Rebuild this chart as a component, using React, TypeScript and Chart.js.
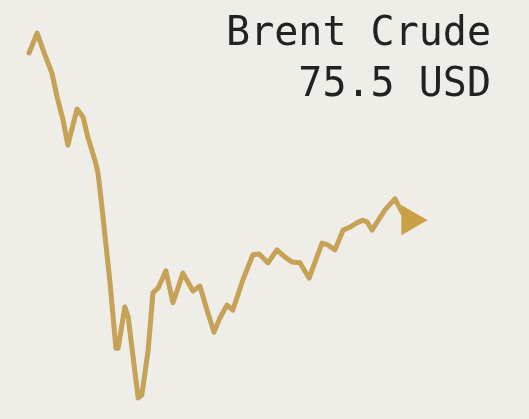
import React, { useEffect, useRef } from "react";
import { Chart, registerables } from "chart.js";

Chart.register(...registerables);

const weeks = [0, 2.2, 4.3, 6.2, 7.6, 9.2, 10.5, 13.0, 14.6, 15.9, 17.8, 18.6, 19.2, 20.0, 21.9, 23.5, 24.1, 25.9, 26.8, 29.5, 30.5, 32.2, 33.5, 34.9, 37.0, 38.9, 41.6, 44.3, 46.2, 48.1, 50.0, 51.6, 53.5, 55.1, 57.8, 60.5, 62.2, 64.6, 67.0, 69.2, 71.1, 73.2, 75.7, 79.2, 80.8, 82.7, 84.9, 86.8, 88.6, 90.3, 91.4, 92.7, 96.2, 98.9, 100.8, 103.0];
const prices = [119.4, 124.6, 118.9, 114.1, 107.8, 101.8, 95.2, 104.7, 102.6, 97.3, 91.3, 88.1, 83.4, 76.3, 59.0, 41.9, 41.9, 52.7, 50.1, 28.8, 29.6, 41.4, 56.4, 57.7, 62.2, 53.8, 61.6, 56.9, 58.2, 51.9, 46.1, 49.8, 53.2, 51.9, 59.8, 66.4, 66.6, 64.3, 67.7, 65.8, 64.5, 64.3, 60.3, 69.5, 69.0, 67.7, 72.9, 73.7, 74.8, 75.5, 75.0, 72.9, 78.2, 81.1, 77.6, 75.5];
const seriesName = "Brent Crude";
const currency = "USD";

const BG = "#eeede8";
const LINE = "#c6a257";
const ARROW = "#c9a045";

export default function App() {
  const ref = useRef<HTMLCanvasElement | null>(null);
  useEffect(() => {
    if (!ref.current) return;
    const last = prices.length - 1;
    const labelPlugin = {
      id: "labelPlugin",
      afterDraw(chart: any) {
        const ctx = chart.ctx;
        ctx.save();
        ctx.fillStyle = "#222222";
        ctx.font = '40px "DejaVu Sans Mono"';
        ctx.textAlign = "right";
        ctx.textBaseline = "alphabetic";
        ctx.fillText(seriesName, 491, 45);
        ctx.fillText(`${prices[last].toFixed(1)} ${currency}`, 491, 96);
        ctx.restore();
      },
    };
    const chart = new Chart(ref.current, {
      type: "line",
      data: {
        datasets: [
          {
            data: weeks.map((w, i) => ({ x: w, y: prices[i] })),
            borderColor: LINE,
            borderWidth: 5,
            borderJoinStyle: "round",
            borderCapStyle: "round",
            tension: 0,
            clip: false,
            pointRadius: prices.map((_, i) => (i === last ? 15.5 : 0)),
            pointHoverRadius: prices.map((_, i) => (i === last ? 15.5 : 0)),
            pointStyle: "triangle",
            pointRotation: 90,
            pointBackgroundColor: ARROW,
            pointBorderColor: ARROW,
            pointBorderWidth: 2,
          } as any,
        ],
      },
      options: {
        animation: false,
        responsive: false,
        events: [],
        layout: { padding: 0, autoPadding: false },
        plugins: { legend: { display: false }, tooltip: { enabled: false }, title: { display: false } },
        scales: {
          x: { type: "linear", display: false, min: -7.84, max: 135.14 },
          y: { type: "linear", display: false, min: 23.3, max: 133.3 },
        },
      },
      plugins: [labelPlugin],
    });
    return () => chart.destroy();
  }, []);
  return (
    <div style={{ position: "fixed", left: 0, top: 0, width: 529, height: 419, background: BG }}>
      <canvas ref={ref} width={529} height={419} style={{ display: "block" }} />
    </div>
  );
}
